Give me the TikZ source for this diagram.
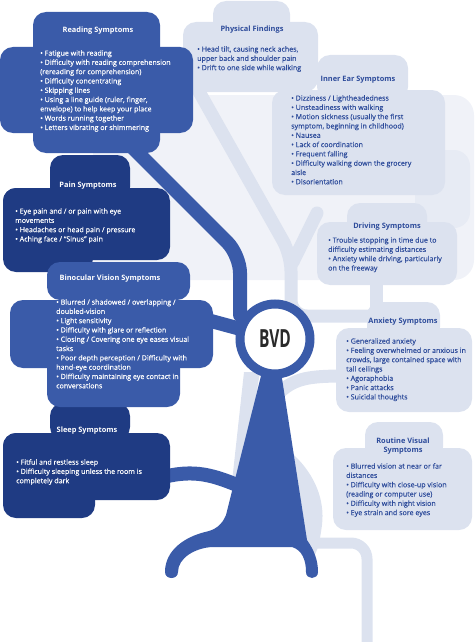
\documentclass[tikz,border=0pt]{standalone}
\usepackage{fontspec}
\setmainfont{Open Sans}
\newfontfamily\listfont[FakeBold=0.35]{Open Sans}
\definecolor{bvdBlue}{HTML}{3A5BA9}
\definecolor{bvdNavy}{HTML}{1F3B83}
\definecolor{bvdLightF}{HTML}{DCE2EF}
\definecolor{bvdLightT}{HTML}{2E4C9B}
\definecolor{bvdPale}{HTML}{F0F2F8}
\definecolor{bvdPaleB}{HTML}{E7EBF4}
\definecolor{bvdInk}{HTML}{2A2A2A}
\tikzset{
  lobe/.style={rounded corners=13pt},
  blueLobe/.style={lobe, fill=bvdBlue},
  navyLobe/.style={lobe, fill=bvdNavy},
  lightLobe/.style={lobe, fill=bvdLightF},
  darkBranch/.style={draw=bvdBlue, line width=14pt, line cap=round, rounded corners=18pt},
  lightBranch/.style={draw=bvdLightF, line width=13pt, line cap=round, rounded corners=16pt},
  headtxt/.style={font=\fontsize{7.4}{8.8}\selectfont\bfseries, align=center, inner sep=0pt},
  listtxt/.style={anchor=north west, font=\listfont\fontsize{7.1}{9.3}\selectfont, align=left, inner sep=0pt},
  onDark/.style={text=white},
  onLight/.style={text=bvdLightT},
  ringnode/.style={circle, draw=bvdBlue, line width=9pt, fill=white,
    minimum size=70pt, inner sep=0pt, text=bvdInk},
}

\begin{document}
\begin{tikzpicture}[x=1pt, y=-1pt]
  \useasboundingbox (0,0) rectangle (474,642);

  % ---- pale canopy behind the upper branches --------------------------------
  \fill[bvdPale, rounded corners=20pt] (93,95) rectangle (474,280);
  \fill[bvdPaleB, rounded corners=16pt] (415,150) rectangle (470,228);

  % ---- light background branches --------------------------------------------
  \coordinate (physFoot)  at (197,88);
  \coordinate (forkBend)  at (291,255);
  \coordinate (stemBase)  at (291,316);
  \coordinate (anxTop)    at (376,316);
  \coordinate (stubTop)   at (317,213);
  \coordinate (forkJoin)  at (293,262);
  \coordinate (driveFoot) at (376,280);
  \coordinate (ringSE)    at (280,392);
  \coordinate (anxWest)   at (345,376);
  \coordinate (rootStart) at (300,543);
  \coordinate (rootBend)  at (367,543);
  \coordinate (rootEnd)   at (367,650);

  \draw[lightBranch] (physFoot) -- (forkBend) -- (stemBase) -- (anxTop);
  \draw[lightBranch] (stubTop) -- (forkJoin);
  \draw[lightBranch] (driveFoot) -- (anxTop);
  \draw[lightBranch] (ringSE) .. controls (295,378) and (310,376) .. (anxWest);
  \draw[lightBranch, line width=11pt, line cap=butt] (rootStart) -- (rootBend) -- (rootEnd);
  % wedge left of the trunk and leaf right of it
  \fill[bvdLightF] (244,372) -- (260,372) -- (242,482) -- (232,482) -- cycle;
  \fill[bvdLightF] (294,455) .. controls (315,475) and (325,500) .. (322,525)
    .. controls (320,540) and (318,550) .. (314,556) -- (300,540) -- cycle;

  % ---- light clouds -----------------------------------------------------------
  \fill[lightLobe] (213,1) rectangle (290,40);
  \fill[lightLobe] (183,22) rectangle (318,92);
  \fill[lightLobe] (317,55) rectangle (408,100);
  \fill[lightLobe] (272,90) rectangle (445,195);
  \fill[lightLobe] (347,203) rectangle (427,240);
  \fill[lightLobe] (317,222) rectangle (457,285);
  \fill[lightLobe] (367,302) rectangle (440,340);
  \fill[lightLobe] (336,328) rectangle (472,412);
  \fill[lightLobe] (365,422) rectangle (443,460);
  \fill[lightLobe] (333,448) rectangle (472,530);

  % ---- dark branches ------------------------------------------------------------
  \coordinate (readFoot)  at (125,140);
  \coordinate (readBend)  at (240,255);
  \coordinate (ringNW)    at (240,315);
  \coordinate (binoEast)  at (200,318);
  \coordinate (ringW)     at (248,331);
  \coordinate (sleepEast) at (160,478);
  \coordinate (trunkW)    at (242,487);

  \draw[darkBranch] (readFoot) -- (readBend) -- (ringNW);
  \draw[darkBranch] (binoEast) -- (ringW);
  \draw[darkBranch] (sleepEast) .. controls (195,468) and (215,476) .. (trunkW);

  % ---- trunk with its two roots -------------------------------------------------
  \fill[bvdBlue] (262,372) -- (281,372) -- (307,540)
    .. controls (314,550) and (318,560) .. (318,572)
    .. controls (318,580) and (306,580) .. (306,572)
    .. controls (306,560) and (302,550) .. (292,547)
    -- (212,547)
    .. controls (195,548) and (178,558) .. (178,572)
    .. controls (178,580) and (165,580) .. (165,572)
    .. controls (165,550) and (185,537) .. (205,532)
    .. controls (215,530) and (222,525) .. (226,515) -- cycle;

  % ---- dark clouds --------------------------------------------------------------
  \fill[blueLobe] (33,12) rectangle (160,153);
  \fill[blueLobe] (0,47) rectangle (193,133);
  \fill[navyLobe] (50,155) rectangle (130,200);
  \fill[navyLobe] (3,188) rectangle (170,260);
  \fill[navyLobe] (3,188) rectangle (93,272);
  \fill[navyLobe] (50,403) rectangle (130,440);
  \fill[navyLobe] (3,433) rectangle (170,500);
  \fill[navyLobe] (3,433) rectangle (95,518);
  \fill[blueLobe] (47,262) rectangle (190,300);
  \fill[blueLobe] (10,300) rectangle (213,368);
  \fill[blueLobe] (47,300) rectangle (180,407);

  % ---- centre ring ----------------------------------------------------------------
  \node[ringnode] (bvd) at (275,339) {\fontsize{25}{25}\selectfont\bfseries\scalebox{0.62}[1]{BVD}};

  % ---- texts of the left clouds -------------------------------------------------
  \node[headtxt, onDark] (readHead) at (98,31) {Reading Symptoms};
  \node[listtxt, onDark] (readList) at (40,50) {• Fatigue with reading\\
    • Difficulty with reading comprehension\\(rereading for comprehension)\\
    • Difficulty concentrating\\• Skipping lines\\
    • Using a line guide (ruler, finger,\\envelope) to help keep your place\\
    • Words running together\\• Letters vibrating or shimmering};

  \node[headtxt, onDark] (painHead) at (88,186) {Pain Symptoms};
  \node[listtxt, onDark] (painList) at (15,208) {• Eye pain and / or pain with eye\\movements\\
    • Headaches or head pain / pressure\\• Aching face / “Sinus” pain};

  \node[headtxt, onDark] (binoHead) at (110,279) {Binocular Vision Symptoms};
  \node[listtxt, onDark] (binoList) at (56,299) {• Blurred / shadowed / overlapping /\\doubled-vision\\
    • Light sensitivity\\• Difficulty with glare or reflection\\
    • Closing / Covering one eye eases visual\\tasks\\
    • Poor depth perception / Difficulty with\\hand-eye coordination\\
    • Difficulty maintaining eye contact in\\conversations};

  \node[headtxt, onDark] (sleepHead) at (87,431) {Sleep Symptoms};
  \node[listtxt, onDark] (sleepList) at (16,459) {• Fitful and restless sleep\\
    • Difficulty sleeping unless the room is\\completely dark};

  % ---- texts of the right clouds ------------------------------------------------
  \node[headtxt, onLight] (physHead) at (252,30) {Physical Findings};
  \node[listtxt, onLight] (physList) at (197,46) {• Head tilt, causing neck aches,\\
    upper back and shoulder pain\\• Drift to one side while walking};

  \node[headtxt, onLight] (earHead) at (358,80) {Inner Ear Symptoms};
  \node[listtxt, onLight] (earList) at (291,95) {• Dizziness / Lightheadedness\\
    • Unsteadiness with walking\\• Motion sickness (usually the first\\
    symptom, beginning in childhood)\\• Nausea\\• Lack of coordination\\
    • Frequent falling\\• Difficulty walking down the grocery\\aisle\\• Disorientation};

  \node[headtxt, onLight] (driveHead) at (387,227) {Driving Symptoms};
  \node[listtxt, onLight] (driveList) at (328,237) {• Trouble stopping in time due to\\
    difficulty estimating distances\\• Anxiety while driving, particularly\\on the freeway};

  \node[headtxt, onLight] (anxHead) at (403,322) {Anxiety Symptoms};
  \node[listtxt, onLight] (anxList) at (346,338) {• Generalized anxiety\\
    • Feeling overwhelmed or anxious in\\crowds, large contained space with\\tall ceilings\\
    • Agoraphobia\\• Panic attacks\\• Suicidal thoughts};

  \node[headtxt, onLight] (routHead) at (403,446) {Routine Visual\\Symptoms};
  \node[listtxt, onLight] (routList) at (346,463) {• Blurred vision at near or far\\distances\\
    • Difficulty with close-up vision\\(reading or computer use)\\
    • Difficulty with night vision\\• Eye strain and sore eyes};

\end{tikzpicture}
\end{document}
